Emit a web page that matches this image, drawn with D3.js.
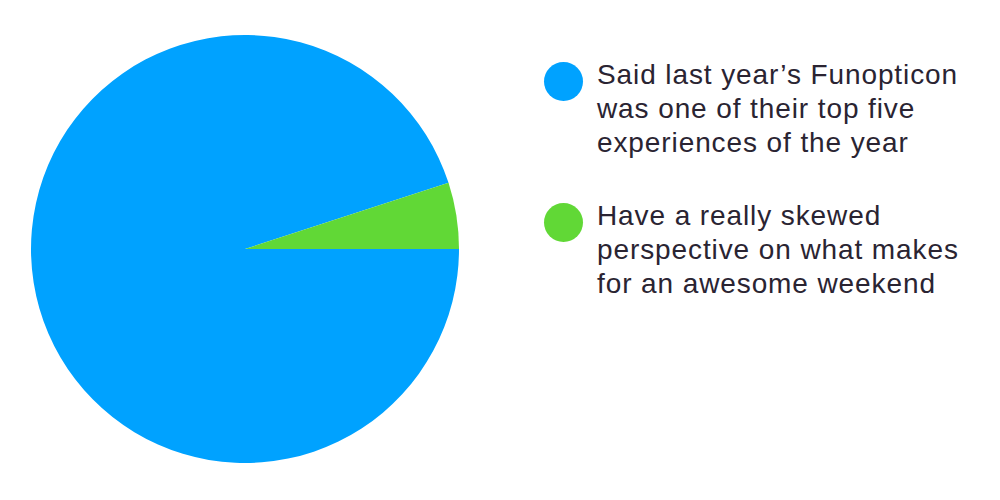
<!DOCTYPE html>
<html><head><meta charset="utf-8">
<script src="https://cdn.jsdelivr.net/npm/d3@7"></script>
<style>body{margin:0;background:#fff;} svg{display:block;}</style>
</head><body>
<svg id="c" width="1000" height="500"></svg>
<script>
const categories = ["Said last year\u2019s Funopticon was one of their top five experiences of the year",
                    "Have a really skewed perspective on what makes for an awesome weekend"];
const values = [95, 5];
const labelLines = [["Said last year\u2019s Funopticon", "was one of their top five", "experiences of the year"],
                    ["Have a really skewed", "perspective on what makes", "for an awesome weekend"]];
const colors = ["#00a2ff", "#61d836"];

const svg = d3.select("#c");
const cx = 245, cy = 249, r = 214;
const data = categories.map((c,i)=>({cat:c, value:values[i], lines:labelLines[i], color:colors[i]}));
const color = d3.scaleOrdinal().domain(categories).range(colors);

// blue starts at 3 o'clock going clockwise; green ends back at 3 o'clock (above horizontal)
const pie = d3.pie().value(d=>d.value).sort(null)
  .startAngle(Math.PI/2).endAngle(Math.PI/2 + 2*Math.PI);
const arc = d3.arc().innerRadius(0).outerRadius(r);
svg.append("g").attr("transform",`translate(${cx},${cy})`)
  .selectAll("path").data(pie(data)).join("path")
  .attr("d", arc).attr("fill", d=>color(d.data.cat));

const leg = svg.append("g");
const y0 = 84, gap = 141, lh = 34;
const g = leg.selectAll("g").data(data).join("g")
  .attr("transform",(d,i)=>`translate(0,${y0+i*gap})`);
g.append("circle").attr("cx",563.5).attr("cy",-2.5).attr("r",19.5).attr("fill",d=>color(d.cat));
g.each(function(d){
  const t = d3.select(this).append("text").attr("x",597).attr("y",0)
    .attr("font-family","'Liberation Sans', Arial, sans-serif").attr("font-size",28)
    .attr("letter-spacing","0.9px").attr("fill","#2a2432");
  d.lines.forEach((l,j)=>t.append("tspan").attr("x",597).attr("y",j*lh).text(l));
});
</script>
</body></html>
